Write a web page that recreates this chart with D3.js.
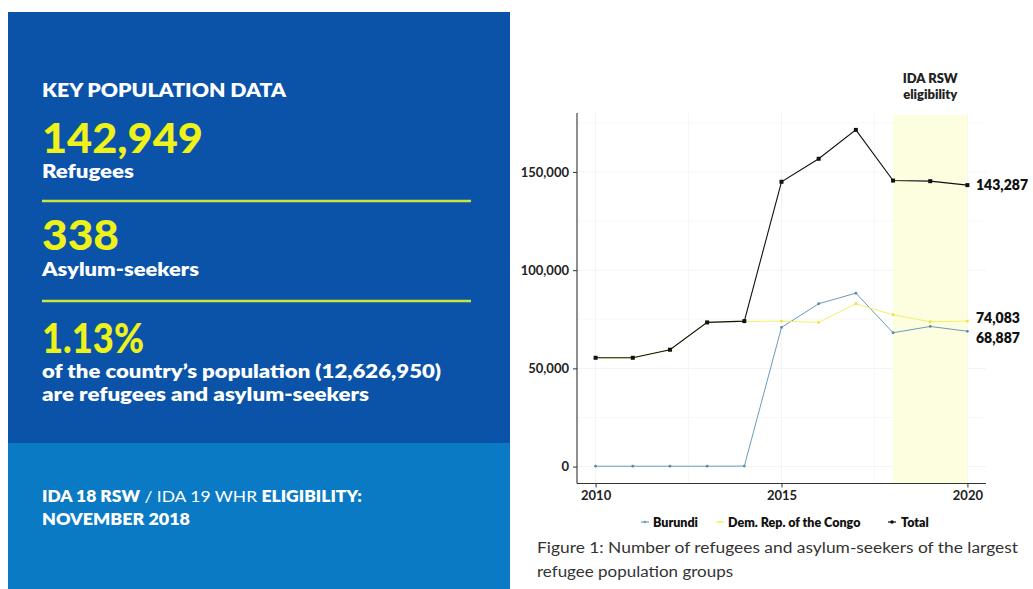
<!DOCTYPE html>
<html><head><meta charset="utf-8">
<script src="https://cdn.jsdelivr.net/npm/d3@7"></script>
<style>
html,body{margin:0;padding:0;background:#fff;}
svg{display:block;}
text{font-family:Lato,"Open Sans",sans-serif;}
</style></head>
<body>
<svg id="c" width="1033" height="589"></svg>
<script>
const years = [2010,2011,2012,2013,2014,2015,2016,2017,2018,2019,2020];
const burundi = [200,200,200,200,250,70850,82900,88300,68150,71350,68887];
const drc = [55300,55300,59400,73300,73900,74060,73400,82900,77300,73750,74083];
const total = [55400,55400,59500,73400,74060,145000,156700,171400,145600,145300,143287];
const yTicks = [0,50000,100000,150000];
const xTicks = [2010,2015,2020];
const seriesNames = ["Burundi","Dem. Rep. of the Congo","Total"];
const seriesColors = ["#6b9bbb","#f3f06a","#111111"];
const eligibility = [2018,2020];

const svg = d3.select("#c");

// ----- Left info panel -----
svg.append("rect").attr("x",8).attr("y",12).attr("width",502).attr("height",431).attr("fill","#0a53a8");
svg.append("rect").attr("x",8).attr("y",443).attr("width",502).attr("height",146).attr("fill","#0b7ac5");

const L = 42;
function t(x,y,str,size,weight,fill){
  return svg.append("text").attr("x",x).attr("y",y).attr("font-size",size).attr("font-weight",weight).attr("fill",fill).text(str);
}
t(L,97,"KEY POPULATION DATA",19,800,"#ffffff").attr("textLength",244).attr("lengthAdjust","spacingAndGlyphs");
t(L,153,"142,949",41,900,"#eef219").attr("textLength",161).attr("lengthAdjust","spacingAndGlyphs");
t(L,178,"Refugees",18,800,"#ffffff").attr("textLength",92).attr("lengthAdjust","spacingAndGlyphs");
svg.append("line").attr("x1",L).attr("x2",471).attr("y1",201).attr("y2",201).attr("stroke","#c8e63c").attr("stroke-width",2.5);
t(L,250,"338",41,900,"#eef219").attr("textLength",77).attr("lengthAdjust","spacingAndGlyphs");
t(L,276,"Asylum-seekers",18,800,"#ffffff").attr("textLength",157).attr("lengthAdjust","spacingAndGlyphs");
svg.append("line").attr("x1",L).attr("x2",471).attr("y1",301).attr("y2",301).attr("stroke","#c8e63c").attr("stroke-width",2.5);
t(L,353,"1.13%",41,900,"#eef219").attr("textLength",102).attr("lengthAdjust","spacingAndGlyphs");
t(L,378,"of the country\u2019s population (12,626,950)",18,800,"#ffffff").attr("textLength",399).attr("lengthAdjust","spacingAndGlyphs");
t(L,401,"are refugees and asylum-seekers",18,800,"#ffffff").attr("textLength",327).attr("lengthAdjust","spacingAndGlyphs");

const ida = svg.append("text").attr("x",L).attr("y",502).attr("font-size",16).attr("fill","#ffffff")
  .attr("textLength",320).attr("lengthAdjust","spacingAndGlyphs");
ida.append("tspan").attr("font-weight",800).text("IDA 18 RSW");
ida.append("tspan").attr("font-weight",400).text(" / IDA 19 WHR ");
ida.append("tspan").attr("font-weight",800).text("ELIGIBILITY:");
t(L,525,"NOVEMBER 2018",16,800,"#ffffff").attr("textLength",148).attr("lengthAdjust","spacingAndGlyphs");

// ----- Chart -----
const x = d3.scaleLinear().domain([2009.5,2020.5]).range([577,986]);
const y = d3.scaleLinear().domain([-8600,180000]).range([483.5,113]);
const g = svg.append("g");

// grid
const gridC = "#f3f3f3";
[2010,2012.5,2015,2017.5,2020].forEach(v=>{
  g.append("line").attr("x1",x(v)).attr("x2",x(v)).attr("y1",113).attr("y2",483.5).attr("stroke",gridC).attr("stroke-width",v%5===0?1:0.6);
});
[0,25000,50000,75000,100000,125000,150000,175000].forEach(v=>{
  g.append("line").attr("x1",577).attr("x2",986).attr("y1",y(v)).attr("y2",y(v)).attr("stroke",gridC).attr("stroke-width",v%50000===0?1:0.6);
});

// eligibility band
g.append("rect").attr("x",x(eligibility[0])).attr("width",x(eligibility[1])-x(eligibility[0]))
  .attr("y",115).attr("height",483.5-115).attr("fill","#fdfddf");

svg.append("text").attr("x",(x(eligibility[0])+x(eligibility[1]))/2).attr("y",83).attr("text-anchor","middle")
  .attr("font-size",13).attr("font-weight",800).attr("fill","#222").text("IDA RSW");
svg.append("text").attr("x",(x(eligibility[0])+x(eligibility[1]))/2).attr("y",99).attr("text-anchor","middle")
  .attr("font-size",13).attr("font-weight",800).attr("fill","#222").text("eligibility");

// axes
const yAxis = d3.axisLeft(y).tickValues(yTicks).tickSize(4).tickPadding(4).tickFormat(d3.format(","));
const xAxis = d3.axisBottom(x).tickValues(xTicks).tickSize(4).tickPadding(3).tickFormat(d3.format("d"));
const ya = svg.append("g").attr("transform","translate(577,0)").call(yAxis);
const xa = svg.append("g").attr("transform","translate(0,483.5)").call(xAxis);
[ya,xa].forEach(a=>{
  a.select(".domain").attr("stroke","#333").attr("stroke-width",1.1).attr("d", a===ya ? "M0,113V483.5" : "M577,0H986");
  a.selectAll(".tick line").attr("stroke","#333");
  a.selectAll(".tick text").attr("fill","#222").attr("font-size",13).attr("font-weight",700)
    .attr("font-family","Lato,'Open Sans',sans-serif");
});

// lines
const data = [burundi,drc,total];
const line = d3.line().x((d,i)=>x(years[i])).y(d=>y(d));
data.forEach((s,k)=>{
  g.append("path").datum(s).attr("d",line).attr("fill","none").attr("stroke",seriesColors[k]).attr("stroke-width",k===2?1.1:1);
});
data.forEach((s,k)=>{
  if(k===2){
    g.selectAll(null).data(s).enter().append("rect")
      .attr("x",(d,i)=>x(years[i])-2).attr("y",d=>y(d)-2).attr("width",4).attr("height",4).attr("fill","#111");
  } else {
    g.selectAll(null).data(s).enter().append("circle")
      .attr("cx",(d,i)=>x(years[i])).attr("cy",d=>y(d)).attr("r",1.4).attr("fill",k===0?"#5a8aa8":"#e8e24a");
  }
});

// end labels
const fmt = d3.format(",");
[[total,190],[drc,323],[burundi,343]].forEach(([s,yy])=>{
  svg.append("text").attr("x",976).attr("y",yy).attr("font-size",14).attr("font-weight",800).attr("fill","#111")
    .text(fmt(s[s.length-1]));
});

// legend
const legX = [641,716,888];
const legTX = [653,728,901];
seriesNames.forEach((n,k)=>{
  svg.append("line").attr("x1",legX[k]).attr("x2",legX[k]+8).attr("y1",522).attr("y2",522)
    .attr("stroke",seriesColors[k]).attr("stroke-width",1.2);
  svg.append("circle").attr("cx",legX[k]+4).attr("cy",522).attr("r",k===2?1.8:1.2).attr("fill",seriesColors[k]);
  svg.append("text").attr("x",legTX[k]).attr("y",526.5).attr("font-size",12.5).attr("font-weight",800).attr("fill","#111").text(n);
});

// caption
svg.append("text").attr("x",537).attr("y",553).attr("font-size",14.5).attr("fill","#333")
  .attr("textLength",481).attr("lengthAdjust","spacingAndGlyphs")
  .text("Figure 1: Number of refugees and asylum-seekers of the largest");
svg.append("text").attr("x",537).attr("y",577).attr("font-size",14.5).attr("fill","#333")
  .attr("textLength",196).attr("lengthAdjust","spacingAndGlyphs")
  .text("refugee population groups");
</script>
</body></html>
